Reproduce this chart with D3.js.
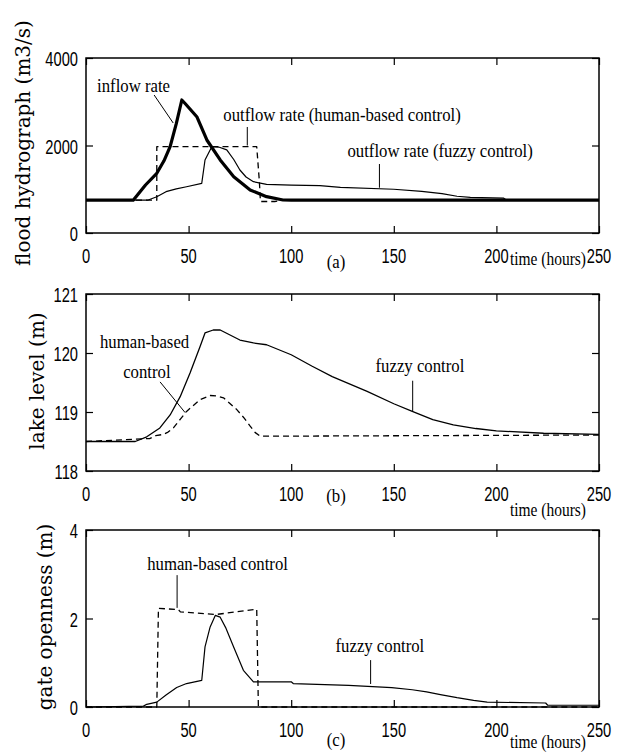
<!DOCTYPE html>
<html>
<head>
<meta charset="utf-8">
<script src="https://cdn.jsdelivr.net/npm/d3@7"></script>
<style>
  body { margin: 0; background: #fff; }
  svg { display: block; }
</style>
</head>
<body>
<svg id="chart" width="623" height="756"></svg>
<script>
// tick values
const timeTicks = [0, 50, 100, 150, 200, 250];
const floodTicks = [0, 2000, 4000];
const levelTicks = [118, 119, 120, 121];
const gateTicks = [0, 2, 4];

// (a) flood hydrograph, m3/s, [hour, value]
const inflowRate = [[0, 750], [23, 750], [29, 1097], [34.5, 1364], [38, 1650], [41, 1973], [44, 2500],
  [46.7, 3040], [48.3, 2960], [54, 2658], [58.9, 2126], [65.4, 1669], [72, 1287], [80, 983],
  [88, 830], [96, 754], [100, 750], [250, 750]];
const outflowHuman = [[0, 750], [34.5, 750], [34.5, 1973], [83.2, 1973], [84.5, 1170], [85, 720],
  [92, 720], [96, 750], [250, 750]];
const outflowFuzzy = [[0, 750], [30, 750], [34.5, 830], [39, 944], [44, 1010], [49, 1058], [56.4, 1135],
  [58, 1669], [61.3, 1973], [65, 1960], [68.6, 1900], [72, 1680], [75, 1440], [78, 1280], [81.6, 1173],
  [88, 1113], [100, 1095], [114, 1082], [124, 1045], [150, 1000], [163.6, 950], [173.5, 900],
  [180.8, 840], [187.3, 815], [203.6, 795], [205, 750], [250, 750]];

// (b) lake level, m
const levelFuzzy = [[0, 118.5], [24, 118.5], [29.6, 118.58], [36, 118.73], [41, 118.95], [45.9, 119.26],
  [50.7, 119.66], [55.6, 120.11], [58, 120.34], [62, 120.39], [65.4, 120.39], [75, 120.22],
  [81.6, 120.17], [88, 120.14], [100, 119.97], [110, 119.78], [120, 119.6], [137, 119.35],
  [150, 119.14], [159, 119.01], [169, 118.87], [179, 118.78], [190, 118.72], [200, 118.68],
  [223, 118.64], [250, 118.62]];
const levelHuman = [[0, 118.5], [31, 118.55], [34, 118.6], [37.7, 118.62], [40, 118.66], [42.6, 118.73],
  [46, 118.88], [49, 119.01], [55.6, 119.21], [60.5, 119.28], [64, 119.27], [67, 119.24], [70, 119.15],
  [73.5, 119.04], [77, 118.9], [80, 118.76], [82.5, 118.65], [84.9, 118.59], [90, 118.59], [250, 118.61]];

// (c) gate openness, m
const gateFuzzy = [[0, 0], [28, 0.02], [29.6, 0.06], [34.5, 0.11], [39, 0.27], [44.2, 0.44], [49, 0.53],
  [56.4, 0.6], [58, 1.36], [60.5, 1.81], [63, 2.07], [65.4, 2.03], [68, 1.8], [71.9, 1.36], [76.7, 0.83],
  [81.6, 0.57], [100, 0.57], [101, 0.53], [128, 0.49], [149, 0.44], [159, 0.39], [166, 0.34],
  [172.7, 0.28], [180.8, 0.21], [188.9, 0.15], [195.5, 0.11], [224, 0.09], [225, 0.04], [250, 0.04]];
const gateHuman = [[0, 0], [34.5, 0], [35.3, 2.23], [45, 2.2], [46, 2.15], [63.3, 2.09], [83.2, 2.21],
  [84, 0], [250, 0]];

const yLabels = ["flood hydrograph (m3/s)", "lake level (m)", "gate openness (m)"];
const panelTags = ["(a)", "(b)", "(c)"];
const timeLabel = "time (hours)";

const svg = d3.select("#chart");
svg.append("rect").attr("width", 623).attr("height", 756).attr("fill", "#fff");

const x = d3.scaleLinear().domain([0, 250]).range([86, 599]);

// layout of the three stacked panels
const panels = [
  {
    range: [233, 58], domain: [0, 4000], ticks: floodTicks, fmt: d => d,
    series: [
      { data: outflowHuman, width: 1.3, dash: "6,4" },
      { data: outflowFuzzy, width: 1.2 },
      { data: inflowRate, width: 3.2 }
    ],
    notes: [
      { text: "inflow rate", at: [5.4, 3223], line: [[33.2, 3154], [42.5, 2514]] },
      { text: "outflow rate (human-based control)", at: [66.9, 2560], line: [[78.6, 2423], [78.6, 2000]] },
      { text: "outflow rate (fuzzy control)", at: [127.4, 1737], line: [[143, 1577], [143, 1035]] }
    ],
    label: { x: 30, y: 143 }, tagY: 268, timeY: 265
  },
  {
    range: [471, 294], domain: [118, 121], ticks: levelTicks, fmt: d => d,
    series: [
      { data: levelHuman, width: 1.3, dash: "6,4" },
      { data: levelFuzzy, width: 1.3 }
    ],
    notes: [
      { text: "human-based", at: [6.8, 120.09] },
      { text: "control", at: [18.1, 119.58], line: [[36.1, 119.51], [48.3, 118.99]] },
      { text: "fuzzy control", at: [141.1, 119.68], line: [[159.2, 119.53], [159.2, 119.01]] }
    ],
    label: { x: 44, y: 381 }, tagY: 502, timeY: 516
  },
  {
    range: [707, 530], domain: [0, 4], ticks: gateTicks, fmt: d => d,
    series: [
      { data: gateHuman, width: 1.3, dash: "6,4" },
      { data: gateFuzzy, width: 1.2 }
    ],
    notes: [
      { text: "human-based control", at: [29.8, 3.1], line: [[44.4, 2.98], [44.4, 2.24]] },
      { text: "fuzzy control", at: [121.6, 1.24], line: [[138.7, 1.06], [138.7, 0.52]] }
    ],
    label: { x: 52, y: 617 }, tagY: 746, timeY: 748
  }
];

// text with horizontal squeeze, like the narrow fonts of the original
function addText(g, s, px, py, opts) {
  const t = g.append("text")
    .attr("transform", `translate(${px},${py}) scale(${opts.sx || 1},1)`)
    .attr("font-family", opts.family)
    .attr("font-size", opts.size)
    .attr("text-anchor", opts.anchor || "start")
    .attr("fill", "#000")
    .text(s);
  return t;
}
const numFont = { family: "'Liberation Sans', Arial, sans-serif", size: 21, sx: 0.7 };
const serifFont = { family: "'Liberation Serif', 'Times New Roman', serif", size: 18, sx: 0.93 };

panels.forEach((p, i) => {
  const y = d3.scaleLinear().domain(p.domain).range(p.range);
  const g = svg.append("g");
  const [x0, x1] = x.range();
  const [yb, yt] = p.range;

  // inward ticks on all four sides
  const tickAxes = [
    [d3.axisBottom(x).tickValues(timeTicks), `translate(0,${yb})`],
    [d3.axisTop(x).tickValues(timeTicks), `translate(0,${yt})`],
    [d3.axisLeft(y).tickValues(p.ticks), `translate(${x0},0)`],
    [d3.axisRight(y).tickValues(p.ticks), `translate(${x1},0)`]
  ];
  tickAxes.forEach(([ax, tr]) => {
    const a = g.append("g").attr("transform", tr)
      .call(ax.tickSize(-7).tickFormat(""));
    a.select(".domain").remove();
    a.selectAll("line").attr("stroke", "#000").attr("stroke-width", 1.2);
  });

  // curves
  const line = d3.line().x(d => x(d[0])).y(d => y(d[1]));
  p.series.forEach(s => {
    g.append("path")
      .attr("d", line(s.data))
      .attr("fill", "none")
      .attr("stroke", "#000")
      .attr("stroke-width", s.width)
      .attr("stroke-dasharray", s.dash || null)
      .attr("stroke-linejoin", "round");
  });

  // frame
  g.append("rect")
    .attr("x", x0).attr("y", yt)
    .attr("width", x1 - x0).attr("height", yb - yt)
    .attr("fill", "none").attr("stroke", "#000").attr("stroke-width", 1.5);

  // tick labels
  timeTicks.forEach(t => addText(g, t, x(t), yb + 30, { ...numFont, anchor: "middle" }));
  p.ticks.forEach(v => addText(g, p.fmt(v), x0 - 8, y(v) + 8, { ...numFont, anchor: "end" }));

  // annotations with leader lines
  p.notes.forEach(n => {
    addText(g, n.text, x(n.at[0]), y(n.at[1]), serifFont);
    if (n.line) {
      g.append("line")
        .attr("x1", x(n.line[0][0])).attr("y1", y(n.line[0][1]))
        .attr("x2", x(n.line[1][0])).attr("y2", y(n.line[1][1]))
        .attr("stroke", "#000").attr("stroke-width", 1);
    }
  });

  // panel tag and time label
  addText(g, panelTags[i], 336, p.tagY, { ...serifFont, anchor: "middle" });
  addText(g, timeLabel, 548, p.timeY, { ...serifFont, sx: 0.86, anchor: "middle" });

  // rotated y label
  g.append("text")
    .attr("transform", `translate(${p.label.x},${p.label.y}) rotate(-90)`)
    .attr("font-family", "'DejaVu Serif', serif")
    .attr("font-size", 20)
    .attr("text-anchor", "middle")
    .attr("fill", "#000")
    .text(yLabels[i]);
});
</script>
</body>
</html>
